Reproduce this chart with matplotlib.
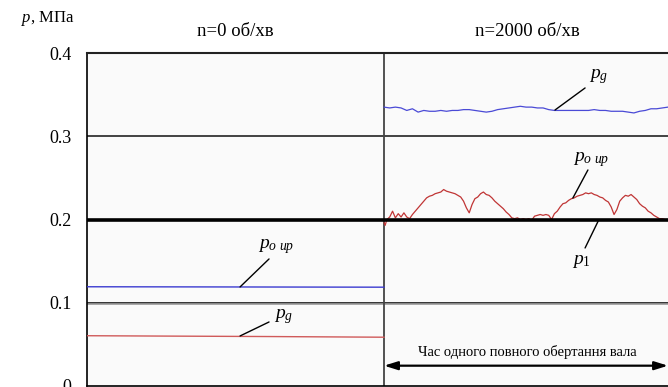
import matplotlib
matplotlib.use("Agg")
import matplotlib.pyplot as plt
import numpy as np

plt.rcParams['font.family'] = ['Liberation Serif', 'DejaVu Serif']
plt.rcParams['mathtext.fontset'] = 'custom'
plt.rcParams['mathtext.rm'] = 'Liberation Serif'
plt.rcParams['mathtext.it'] = 'Liberation Serif:italic'

# ---- data -------------------------------------------------------------
# time axis: right panel covers one shaft revolution (0..1), left panel is n = 0
y_ticks = [0.0, 0.1, 0.2, 0.3, 0.4]
y_tick_labels = ["0", "0.1", "0.2", "0.3", "0.4"]
panel_titles = ["n=0 об/хв", "n=2000 об/хв"]

# n = 0: steady signals
t_static = [-1.046, -0.8, -0.6, -0.4, -0.2, 0.0]
p_oup_static = [0.1192, 0.1191, 0.1190, 0.1189, 0.1188, 0.1187]
p_g_static = [0.0604, 0.0600, 0.0597, 0.0594, 0.0590, 0.0586]

# n = 2000: gas pressure p_g over one revolution
t_pg = [0.00, 0.02, 0.04, 0.06, 0.08, 0.10, 0.12, 0.14, 0.16, 0.18, 0.20,
        0.22, 0.24, 0.26, 0.28, 0.30, 0.32, 0.34, 0.36, 0.38, 0.40, 0.42,
        0.44, 0.46, 0.48, 0.50, 0.52, 0.54, 0.56, 0.58, 0.60, 0.62, 0.64,
        0.66, 0.68, 0.70, 0.72, 0.74, 0.76, 0.78, 0.80, 0.82, 0.84, 0.86,
        0.88, 0.90, 0.92, 0.94, 0.96, 0.98, 1.00]
p_g_dyn = [0.335, 0.334, 0.335, 0.334, 0.331, 0.333, 0.329, 0.331, 0.330,
           0.330, 0.331, 0.330, 0.331, 0.331, 0.332, 0.332, 0.331, 0.330,
           0.329, 0.330, 0.332, 0.333, 0.334, 0.335, 0.336, 0.335, 0.335,
           0.334, 0.334, 0.332, 0.331, 0.331, 0.331, 0.331, 0.331, 0.331,
           0.331, 0.332, 0.331, 0.331, 0.330, 0.330, 0.330, 0.329, 0.328,
           0.330, 0.331, 0.333, 0.333, 0.334, 0.335]

# n = 2000: pressure p_o up over one revolution
t_poup = [0.000, 0.004, 0.01, 0.02, 0.03, 0.04, 0.05, 0.06, 0.07, 0.08, 0.09,
          0.10, 0.11, 0.12, 0.13, 0.14, 0.15, 0.16, 0.17, 0.18, 0.19, 0.20,
          0.21, 0.22, 0.23, 0.24, 0.25, 0.26, 0.27, 0.28, 0.29, 0.30, 0.31,
          0.32, 0.33, 0.34, 0.35, 0.36, 0.37, 0.38, 0.39, 0.40, 0.41, 0.42,
          0.43, 0.44, 0.45, 0.46, 0.47, 0.48, 0.49, 0.50, 0.51, 0.52, 0.53,
          0.54, 0.55, 0.56, 0.57, 0.58, 0.59, 0.60, 0.61, 0.62, 0.63, 0.64,
          0.65, 0.66, 0.67, 0.68, 0.69, 0.70, 0.71, 0.72, 0.73, 0.74, 0.75,
          0.76, 0.77, 0.78, 0.79, 0.80, 0.81, 0.82, 0.83, 0.84, 0.85, 0.86,
          0.87, 0.88, 0.89, 0.90, 0.91, 0.92, 0.93, 0.94, 0.95, 0.96, 0.97,
          0.98, 0.99, 1.00]
p_oup_dyn = [0.196, 0.193, 0.200, 0.203, 0.210, 0.202, 0.207, 0.203, 0.208,
             0.203, 0.201, 0.206, 0.210, 0.214, 0.218, 0.222, 0.226, 0.228,
             0.229, 0.231, 0.232, 0.233, 0.236, 0.234, 0.233, 0.232, 0.231,
             0.229, 0.227, 0.222, 0.214, 0.208, 0.218, 0.225, 0.227, 0.231,
             0.233, 0.230, 0.229, 0.226, 0.222, 0.219, 0.216, 0.213, 0.209,
             0.206, 0.202, 0.201, 0.202, 0.200, 0.201, 0.200, 0.201, 0.199,
             0.204, 0.205, 0.206, 0.205, 0.206, 0.205, 0.200, 0.207, 0.210,
             0.215, 0.219, 0.220, 0.223, 0.225, 0.226, 0.228, 0.229, 0.230,
             0.232, 0.231, 0.232, 0.230, 0.229, 0.227, 0.226, 0.223, 0.221,
             0.215, 0.206, 0.212, 0.222, 0.226, 0.229, 0.228, 0.230, 0.227,
             0.224, 0.219, 0.216, 0.214, 0.210, 0.208, 0.205, 0.203, 0.201,
             0.201, 0.200, 0.200]

p1_level = 0.2

# ---- figure -----------------------------------------------------------
W, H = 668, 387
fig = plt.figure(figsize=(W / 100, H / 100), dpi=100)
x0, x1, y0, y1 = 87, 668, 386, 53
ax = fig.add_axes([x0 / W, (H - y0) / H, (x1 - x0) / W, (y0 - y1) / H])
ax.set_facecolor('#fafafa')

t_left = -1.046
ax.set_xlim(t_left, 1.0)
ax.set_ylim(0, 0.4)

# panel separators
ax.axhline(0.3, color='#333333', lw=1.3, zorder=2)
ax.axhline(0.1, color='#111111', lw=1.2, zorder=2)
ax.axhline(0.0982, color='#999999', lw=1.2, zorder=2)
ax.axvline(0.0, color='#444444', lw=1.3, zorder=2)

# signals
ax.plot(t_static, p_oup_static, color='#3b3bd0', lw=1.0, zorder=3)
ax.plot(t_static, p_g_static, color='#d05a5a', lw=1.0, zorder=3)
ax.plot(t_pg, p_g_dyn, color='#4a4ad6', lw=0.9, zorder=3)
ax.plot(t_poup, p_oup_dyn, color='#c03535', lw=0.9, zorder=3)
ax.axhline(p1_level, color='black', lw=2.6, zorder=4)

# axis styling
ax.spines['right'].set_visible(False)
ax.spines['left'].set_linewidth(1.2)
ax.spines['top'].set_linewidth(1.5)
ax.spines['top'].set_color('#222222')
ax.spines['bottom'].set_linewidth(1.2)
ax.set_xticks([])
ax.set_yticks(y_ticks)
ax.set_yticklabels(y_tick_labels, fontsize=13)
ax.tick_params(axis='y', length=0, pad=11)

# panel titles and units
fig.text(235.5 / W, 1 - 31 / H, panel_titles[0], ha='center', va='center', fontsize=13.5)
fig.text(527 / W, 1 - 31 / H, panel_titles[1], ha='center', va='center', fontsize=13.5)
fig.text(21 / W, 1 - 18 / H, r'$p$, МПа', ha='left', va='center', fontsize=12)

# curve labels with leader lines
def label(txt, xy_text, xy_line_start, xy_line_end):
    ax.text(*xy_text, txt, ha='center', va='center', fontsize=14)
    ax.annotate('', xy=xy_line_end, xytext=xy_line_start,
                arrowprops=dict(arrowstyle='-', color='black', lw=1.0,
                                shrinkA=0, shrinkB=0))

label(r'$p_g$', (0.756, 0.372), (0.708, 0.358), (0.602, 0.3315))
label(r'$p_{o\ up}$', (0.729, 0.2715), (0.718, 0.2595), (0.665, 0.2258))
label(r'$p_{\mathit{1}}$', (0.694, 0.1493), (0.754, 0.198), (0.708, 0.1658))
label(r'$p_{o\ up}$', (-0.380, 0.167), (-0.405, 0.1526), (-0.507, 0.1190))
label(r'$p_g$', (-0.352, 0.0829), (-0.405, 0.0769), (-0.507, 0.0601))

# one revolution marker
ax.annotate('', xy=(0.0, 0.0244), xytext=(1.0, 0.0244),
            arrowprops=dict(arrowstyle='<|-|>,head_length=0.8,head_width=0.25',
                            color='black', lw=1.6, shrinkA=0, shrinkB=0))
ax.text(0.505, 0.0405, 'Час одного повного обертання вала', ha='center',
        va='center', fontsize=10.5)

fig.savefig('out.png', dpi=100)
